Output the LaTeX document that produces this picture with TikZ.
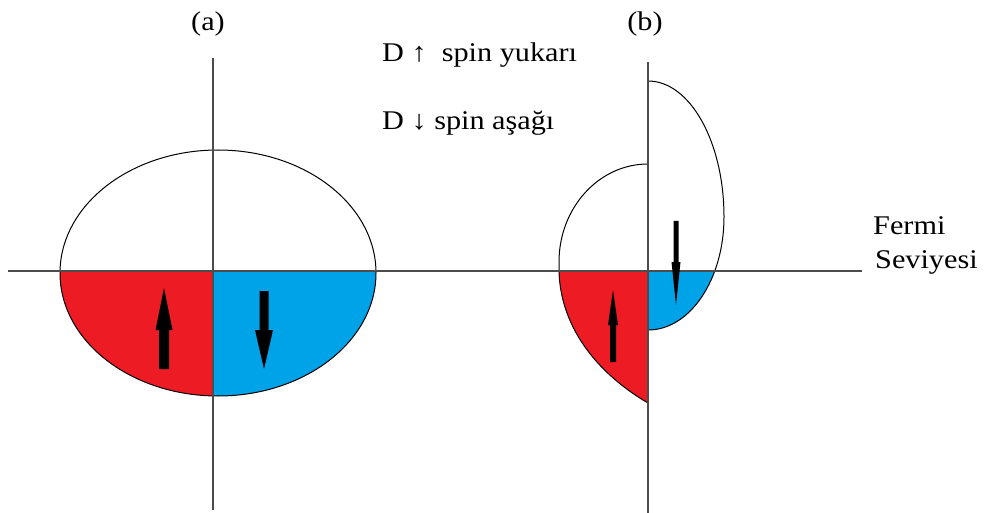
\documentclass[tikz,border=0pt]{standalone}
\usepackage{fontspec}
\setmainfont[FakeStretch=1.12]{Liberation Serif}
\definecolor{pred}{HTML}{ED1C24}
\definecolor{pblue}{HTML}{00A2E8}
\tikzset{
  axis/.style={draw=black!70, line width=1.3pt},
  outline/.style={draw=black, line width=1pt},
  spinarrow/.style={fill=black, draw=none},
  lbl/.style={font=\fontsize{27}{31}\selectfont, inner sep=0pt},
}
\begin{document}
\begin{tikzpicture}[x=1pt,y=-1pt]
\useasboundingbox (0,0) rectangle (985,513);
% ---------- (a) ----------
\begin{scope}
  \clip (0,271) rectangle (213,513);
  \fill[pred] (218,273) ellipse [x radius=158, y radius=123];
\end{scope}
\begin{scope}
  \clip (213,271) rectangle (420,513);
  \fill[pblue] (218,273) ellipse [x radius=158, y radius=123];
\end{scope}
\draw[outline] (218,273) ellipse [x radius=158, y radius=123];
% ---------- (b) ----------
\fill[pred] (648,272) -- (559,272) .. controls (561,330) and (600,375) .. (648,403) -- cycle;
\begin{scope}
  \clip (648,272) rectangle (800,400);
  \fill[pblue] (648,217) -- (724,217) arc[start angle=0, end angle=90, x radius=76, y radius=113] -- cycle;
\end{scope}
\draw[outline] (648,81) arc[start angle=-90, end angle=0, x radius=76, y radius=136]
  arc[start angle=0, end angle=90, x radius=76, y radius=113];
\draw[outline] (648,164) arc[start angle=-90, end angle=-180, x radius=89, y radius=98]
  -- (559,272) .. controls (561,330) and (600,375) .. (648,403);
% ---------- axes ----------
\coordinate (hl) at (8,271);
\coordinate (hr) at (862,271);
\coordinate (vat) at (213,58);
\coordinate (vab) at (213,510);
\coordinate (vbt) at (648,62);
\coordinate (vbb) at (648,513);
\draw[axis] (hl) -- (hr);
\draw[axis] (vat) -- (vab);
\draw[axis] (vbt) -- (vbb);
% ---------- spin arrows ----------
\fill[spinarrow] (159,369) -- (169,369) -- (169,330) -- (172.5,330) -- (164,288) -- (155.5,330) -- (159,330) -- cycle;
\fill[spinarrow] (259.5,291) -- (268.5,291) -- (268.5,330) -- (273,330) -- (264,369) -- (255,330) -- (259.5,330) -- cycle;
\fill[spinarrow] (610,362) -- (616,362) -- (616,325) -- (618,325) -- (613,290) -- (608,325) -- (610,325) -- cycle;
\fill[spinarrow] (673.5,221) -- (678.5,221) -- (678.5,262) -- (680.5,262) -- (676,305) -- (671.5,262) -- (673.5,262) -- cycle;
% ---------- labels ----------
\node[lbl, anchor=base] (la) at (208,31) {(a)};
\node[lbl, anchor=base] (lb) at (645,31) {(b)};
\node[lbl, anchor=base west] (up) at (382,62) {D ↑\ \ spin yukarı};
\node[lbl, anchor=base west] (dn) at (382,130) {D ↓ spin aşağı};
\node[lbl, anchor=base west] (f1) at (873,235) {Fermi};
\node[lbl, anchor=base west] (f2) at (875,268) {Seviyesi};
\end{tikzpicture}
\end{document}
